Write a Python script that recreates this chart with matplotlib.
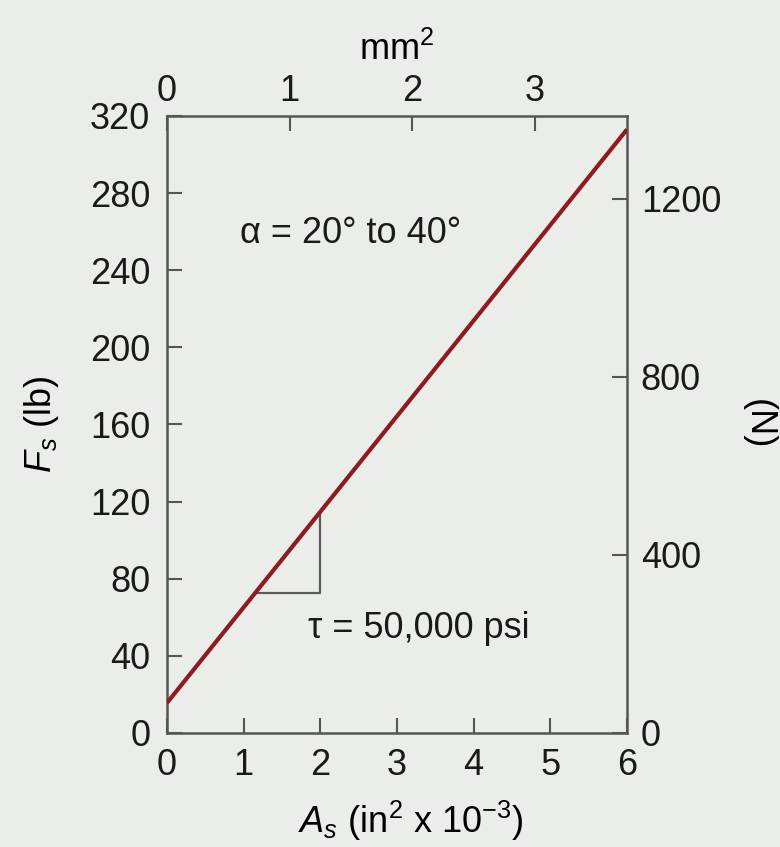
import matplotlib
matplotlib.use('agg')
import matplotlib.pyplot as plt

# shear force vs shear area
area = [0, 6]            # A_s, in^2 x 10^-3
force = [15.6, 313]      # F_s, lb
tri_area = [1.15, 2.0]   # slope triangle corners (A_s)

x_ticks = [0, 1, 2, 3, 4, 5, 6]
y_ticks = [0, 40, 80, 120, 160, 200, 240, 280, 320]
n_ticks = [0, 400, 800, 1200]
mm_ticks = [0, 1, 2, 3]

LB_TO_N = 4.33     # newton scale as drawn on the right axis
MM_FACTOR = 1.6    # drawn spacing of mm^2 ticks on the in^2 scale

plt.rcParams['font.family'] = ['Liberation Sans', 'DejaVu Sans']
plt.rcParams['mathtext.fontset'] = 'custom'
plt.rcParams['mathtext.rm'] = 'Liberation Sans'
plt.rcParams['mathtext.it'] = 'Liberation Sans:italic'

bg = '#eaede8'
spine_col = '#555555'
txt_col = '#1a1a1a'
fs = 26


def f_at(a):
    return force[0] + (force[1] - force[0]) * (a - area[0]) / (area[1] - area[0])


fig = plt.figure(figsize=(7.8, 8.47), dpi=100, facecolor=bg)
ax = fig.add_axes([0.2141, 0.1346, 0.5897, 0.7285])
ax.set_facecolor(bg)

ax.plot(area, force, color='#8e1b1f', lw=3, solid_capstyle='butt', zorder=3)

# slope triangle
a1, a2 = tri_area
ax.plot([a1, a2, a2], [f_at(a1), f_at(a1), f_at(a2)], color='#5a5a5a', lw=1.6, zorder=2)

ax.set_xlim(0, 6)
ax.set_ylim(0, 320)
ax.set_xticks(x_ticks)
ax.set_yticks(y_ticks)

for s in ax.spines.values():
    s.set_color(spine_col)
    s.set_linewidth(1.8)

ax.tick_params(axis='both', direction='in', length=11, width=1.5, color=spine_col,
               labelsize=fs, labelcolor=txt_col)
ax.tick_params(axis='y', pad=12)
ax.tick_params(axis='x', pad=11)

ax.set_ylabel(r'$F_s$ (lb)', fontsize=fs, va='center')
ax.yaxis.set_label_coords(-0.272, 0.5)
ax.set_xlabel(r'$A_s$ (in$^2$ x 10$^{-3}$)', fontsize=fs, va='center')
ax.xaxis.set_label_coords(0.53, -0.143)

# right axis in newtons
axr = ax.twinx()
axr.set_ylim(0, 320 * LB_TO_N)
axr.set_yticks(n_ticks)
axr.tick_params(axis='y', direction='in', length=11, width=1.5, color=spine_col,
                labelsize=fs, labelcolor=txt_col, pad=10)
for s in axr.spines.values():
    s.set_visible(False)
axr.set_ylabel('(N)', fontsize=fs, rotation=270, va='center')
axr.yaxis.set_label_coords(1.285, 0.5)

# top axis in mm^2
axt = ax.secondary_xaxis('top', functions=(lambda x: x / MM_FACTOR, lambda x: x * MM_FACTOR))
axt.set_xticks(mm_ticks)
axt.tick_params(axis='x', direction='in', length=11, width=1.5, color=spine_col,
                labelsize=fs, labelcolor=txt_col, pad=5)
axt.spines['top'].set_visible(False)
axt.set_xlabel('mm$^2$', fontsize=fs, labelpad=10)

ax.text(2.4, 259, 'α = 20° to 40°', fontsize=fs, ha='center', va='center', color=txt_col)
ax.text(3.29, 54, 'τ = 50,000 psi', fontsize=fs, ha='center', va='center', color=txt_col)

plt.savefig('out.png', dpi=100, facecolor=bg)
plt.close(fig)
